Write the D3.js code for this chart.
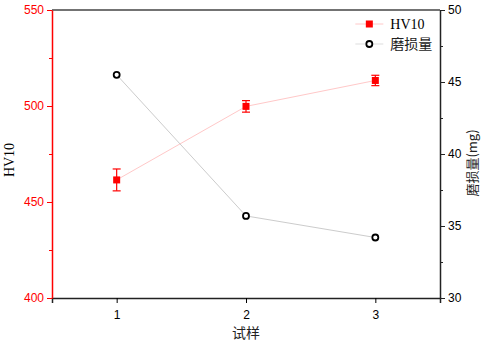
<!DOCTYPE html>
<html lang="zh">
<head>
    <meta charset="UTF-8">
    <title>HV10 与 磨损量</title>
    <script src="https://d3js.org/d3.v7.min.js"></script>
    <style>
        body { margin: 0; background: #fff; }
        .tick text { font-family: Arial, "Liberation Sans", sans-serif; font-size: 12px; }
        .serif { font-family: "Liberation Serif", "Times New Roman", serif; }
        .cjk { font-family: "Noto Sans CJK SC", serif; }
    </style>
</head>
<body>
    <svg id="chart" width="484" height="344"></svg>
    <script>
        // data
        const samples = [1, 2, 3];
        const hv10 = [461.5, 499.8, 513.3];
        const hv10Err = [5.7, 3, 2.7];
        const wear = [45.5, 35.7, 34.2];
        const leftTicks = [400, 450, 500, 550];
        const rightTicks = [30, 35, 40, 45, 50];

        const margin = { top: 10, right: 44, bottom: 46, left: 52 };
        const width = 484 - margin.left - margin.right;
        const height = 344 - margin.top - margin.bottom;

        const svg = d3.select("#chart")
            .append("g")
            .attr("transform", "translate(" + margin.left + "," + margin.top + ")");

        const x = d3.scaleLinear().domain([0.5, 3.5]).range([0, width]);
        const yL = d3.scaleLinear().domain([400, 550]).range([height, 0]);
        const yR = d3.scaleLinear().domain([30, 50]).range([height, 0]);

        // top frame line
        svg.append("line")
            .attr("x1", 0).attr("x2", width).attr("y1", 0).attr("y2", 0)
            .attr("stroke", "#444").attr("stroke-width", 1.5);

        // bottom axis
        const xAxis = svg.append("g")
            .attr("transform", "translate(0," + height + ")")
            .call(d3.axisBottom(x).tickValues(samples).tickFormat(d3.format("d")).tickSizeOuter(0).tickSize(5));
        xAxis.select(".domain").attr("stroke", "#222").attr("stroke-width", 1.5);
        xAxis.selectAll(".tick text").attr("dy", "1.05em");

        // left axis (red) with minor ticks
        const red = "#ff0000";
        const leftMinor = svg.append("g")
            .call(d3.axisLeft(yL).tickValues([425, 475, 525]).tickSize(3).tickFormat(""));
        leftMinor.select(".domain").remove();
        leftMinor.selectAll("line").attr("stroke", red);
        const yAxisL = svg.append("g")
            .call(d3.axisLeft(yL).tickValues(leftTicks).tickSize(5).tickSizeOuter(0));
        yAxisL.select(".domain").attr("stroke", red).attr("stroke-width", 1.5);
        yAxisL.selectAll("line").attr("stroke", red);
        yAxisL.selectAll("text").attr("fill", red);

        // right axis with minor ticks
        const rightMinor = svg.append("g")
            .attr("transform", "translate(" + width + ",0)")
            .call(d3.axisRight(yR).tickValues([32.5, 37.5, 42.5, 47.5]).tickSize(3).tickFormat(""));
        rightMinor.select(".domain").remove();
        rightMinor.selectAll("line").attr("stroke", "#222");
        const yAxisR = svg.append("g")
            .attr("transform", "translate(" + width + ",0)")
            .call(d3.axisRight(yR).tickValues(rightTicks).tickSize(5).tickSizeOuter(0));
        yAxisR.select(".domain").attr("stroke", "#222").attr("stroke-width", 1.5);
        yAxisR.selectAll("line").attr("stroke", "#222");

        // lines
        const hvData = samples.map((s, i) => ({ s: s, v: hv10[i], e: hv10Err[i] }));
        const wearData = samples.map((s, i) => ({ s: s, v: wear[i] }));

        svg.append("path")
            .datum(hvData)
            .attr("fill", "none").attr("stroke", "#ffc8c8").attr("stroke-width", 1)
            .attr("d", d3.line().x(d => x(d.s)).y(d => yL(d.v)));
        svg.append("path")
            .datum(wearData)
            .attr("fill", "none").attr("stroke", "#cccccc").attr("stroke-width", 1)
            .attr("d", d3.line().x(d => x(d.s)).y(d => yR(d.v)));

        // error bars
        const eb = svg.selectAll(".err").data(hvData).enter().append("g").attr("stroke", red).attr("stroke-width", 1.2);
        eb.append("line")
            .attr("x1", d => x(d.s)).attr("x2", d => x(d.s))
            .attr("y1", d => yL(d.v - d.e)).attr("y2", d => yL(d.v + d.e));
        eb.append("line")
            .attr("x1", d => x(d.s) - 4).attr("x2", d => x(d.s) + 4)
            .attr("y1", d => yL(d.v - d.e)).attr("y2", d => yL(d.v - d.e));
        eb.append("line")
            .attr("x1", d => x(d.s) - 4).attr("x2", d => x(d.s) + 4)
            .attr("y1", d => yL(d.v + d.e)).attr("y2", d => yL(d.v + d.e));

        // markers
        svg.selectAll(".sq").data(hvData).enter().append("rect")
            .attr("x", d => x(d.s) - 3.5).attr("y", d => yL(d.v) - 3.5)
            .attr("width", 7).attr("height", 7).attr("fill", red);
        svg.selectAll(".ci").data(wearData).enter().append("circle")
            .attr("cx", d => x(d.s)).attr("cy", d => yR(d.v)).attr("r", 3)
            .attr("fill", "#fff").attr("stroke", "#000").attr("stroke-width", 1.8);

        // axis titles
        svg.append("text").attr("class", "serif")
            .attr("transform", "translate(" + (-38) + "," + (height / 2 + 6) + ") rotate(-90)")
            .attr("text-anchor", "middle").attr("font-size", 14).text("HV10");
        svg.append("text").attr("class", "cjk")
            .attr("transform", "translate(" + (width + 37) + "," + (height / 2 + 9) + ") rotate(-90)")
            .attr("text-anchor", "middle").attr("font-size", 13).attr("fill", "#222").text("磨损量(mg)");
        svg.append("text").attr("class", "cjk")
            .attr("x", width / 2 + 0).attr("y", height + 40)
            .attr("text-anchor", "middle").attr("font-size", 14).attr("fill", "#222").text("试样");

        // legend
        const lg = svg.append("g").attr("transform", "translate(" + (x(3) - 6) + ",14)");
        lg.append("line").attr("x1", -14).attr("x2", 14).attr("y1", 0).attr("y2", 0).attr("stroke", "#ffc8c8");
        lg.append("rect").attr("x", -3.5).attr("y", -3.5).attr("width", 7).attr("height", 7).attr("fill", red);
        lg.append("text").attr("class", "serif").attr("x", 21).attr("y", 5).attr("font-size", 14).text("HV10");
        lg.append("line").attr("x1", -14).attr("x2", 14).attr("y1", 20).attr("y2", 20).attr("stroke", "#dddddd");
        lg.append("circle").attr("cx", 0).attr("cy", 20).attr("r", 3)
            .attr("fill", "#fff").attr("stroke", "#000").attr("stroke-width", 1.8);
        lg.append("text").attr("class", "cjk").attr("x", 21).attr("y", 25).attr("font-size", 14).attr("fill", "#222").text("磨损量");
    </script>
</body>
</html>
